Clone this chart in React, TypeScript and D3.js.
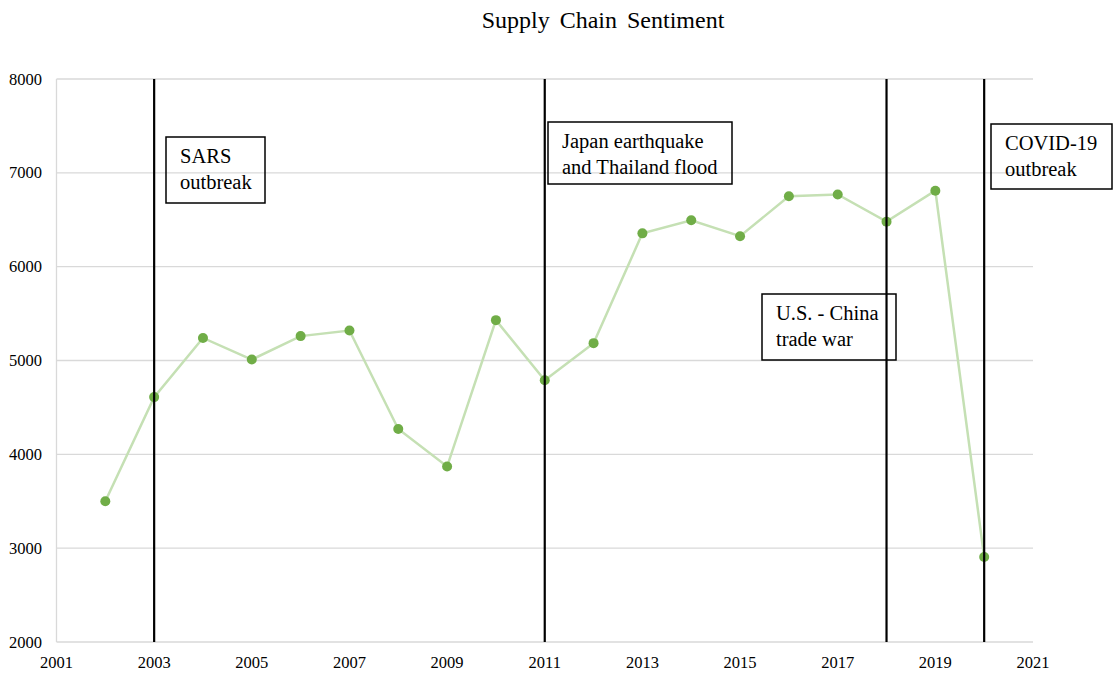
import React from "react";
import * as d3 from "d3";

const years = [2002, 2003, 2004, 2005, 2006, 2007, 2008, 2009, 2010, 2011, 2012, 2013, 2014, 2015, 2016, 2017, 2018, 2019, 2020];
const sentiment = [3500, 4610, 5240, 5010, 5260, 5320, 4270, 3870, 5430, 4790, 5185, 6355, 6495, 6325, 6750, 6770, 6480, 6810, 2905];
const xTicks = [2001, 2003, 2005, 2007, 2009, 2011, 2013, 2015, 2017, 2019, 2021];
const yTicks = [2000, 3000, 4000, 5000, 6000, 7000, 8000];
const eventYears = [2003, 2011, 2018, 2020];
const eventLabels = [
  ["SARS", "outbreak"],
  ["Japan earthquake", "and Thailand flood"],
  ["U.S. - China", "trade war"],
  ["COVID-19", "outbreak"],
];
const boxes = [
  { x: 166, y: 137, w: 99, h: 66 },
  { x: 548, y: 122, w: 184, h: 62 },
  { x: 762, y: 294, w: 134, h: 66 },
  { x: 991, y: 124, w: 121, h: 65 },
];

export default function App() {
  const W = 1114, H = 673;
  const x = d3.scaleLinear().domain([2001, 2021]).range([56.5, 1033]);
  const y = d3.scaleLinear().domain([2000, 8000]).range([642, 79]);
  const line = d3.line<number>().x((_, i) => x(years[i])).y((d) => y(d));
  const font = "'Liberation Serif', 'Times New Roman', serif";
  return (
    <svg width={W} height={H} style={{ position: "absolute", left: 0, top: 0, background: "#fff" }} fontFamily={font}>
      <text x={603} y={28} textAnchor="middle" fontSize={24} wordSpacing={4} fill="#000">Supply Chain Sentiment</text>
      {yTicks.map((t) => (
        <g key={t}>
          <line x1={x(2001)} x2={x(2021)} y1={y(t)} y2={y(t)} stroke="#d9d9d9" strokeWidth={1.3} />
          <text x={42} y={y(t) + 5.5} textAnchor="end" fontSize={16.5} fill="#000">{t}</text>
        </g>
      ))}
      <line x1={x(2001)} x2={x(2001)} y1={y(8000)} y2={y(2000)} stroke="#d9d9d9" strokeWidth={1.3} />
      {xTicks.map((t) => (
        <text key={t} x={x(t)} y={668} textAnchor="middle" fontSize={16.5} fill="#000">{t}</text>
      ))}
      <path d={line(sentiment) || ""} fill="none" stroke="#c5e0b4" strokeWidth={2.5} />
      {sentiment.map((v, i) => (
        <circle key={i} cx={x(years[i])} cy={y(v)} r={5} fill="#70ad47" />
      ))}
      {eventYears.map((e) => (
        <line key={e} x1={x(e)} x2={x(e)} y1={y(8000)} y2={y(2000)} stroke="#000" strokeWidth={2.2} />
      ))}
      {boxes.map((b, i) => (
        <g key={i}>
          <rect x={b.x} y={b.y} width={b.w} height={b.h} fill="none" stroke="#000" strokeWidth={1.5} />
          <text x={b.x + 14} y={b.y + 26} fontSize={20.5} fill="#000">{eventLabels[i][0]}</text>
          <text x={b.x + 14} y={b.y + 52} fontSize={20.5} fill="#000">{eventLabels[i][1]}</text>
        </g>
      ))}
    </svg>
  );
}
